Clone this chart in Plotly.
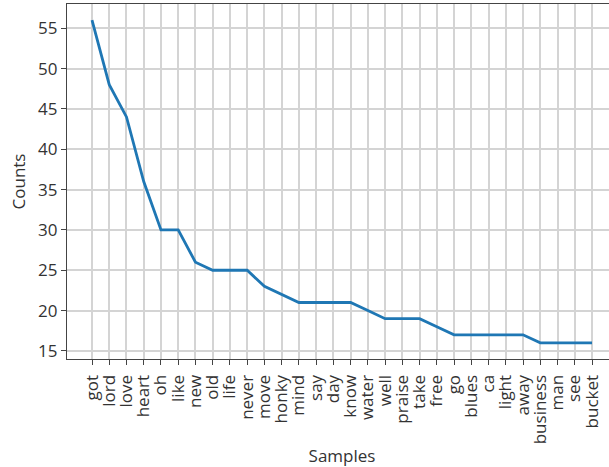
import plotly.graph_objects as go

samples = ["got", "lord", "love", "heart", "oh", "like", "new", "old", "life", "never",
           "move", "honky", "mind", "say", "day", "know", "water", "well", "praise", "take",
           "free", "go", "blues", "ca", "light", "away", "business", "man", "see", "bucket"]
counts = [56, 48, 44, 36, 30, 30, 26, 25, 25, 25,
          23, 22, 21, 21, 21, 21, 20, 19, 19, 19,
          18, 17, 17, 17, 17, 17, 16, 16, 16, 16]
y_ticks = [15, 20, 25, 30, 35, 40, 45, 50, 55]

idx = list(range(len(samples)))

fig = go.Figure()
fig.add_trace(go.Scatter(x=idx, y=counts, mode="lines",
                         line=dict(color="#1f77b4", width=2.8), showlegend=False))

font = dict(family="Open Sans", size=17, color="#333333")
fig.update_layout(
    width=620, height=467, autosize=False,
    margin=dict(l=67, r=3, t=4, b=108),
    paper_bgcolor="white", plot_bgcolor="white",
    font=font,
)
fig.update_xaxes(
    range=[-1.45, len(samples) - 1 + 1.45],
    tickmode="array", tickvals=idx, ticktext=samples, tickangle=-90,
    showgrid=True, gridcolor="#d4d4d4", gridwidth=1.5,
    showline=True, linecolor="#444444", linewidth=1.2, mirror=True,
    ticks="outside", ticklen=5, tickcolor="#444444", ticklabelstandoff=3,
    zeroline=False, automargin=False,
    title=dict(text="Samples", standoff=6, font=font),
)
fig.update_yaxes(
    range=[14, 58],
    tickmode="array", tickvals=y_ticks,
    showgrid=True, gridcolor="#d4d4d4", gridwidth=1.5,
    showline=True, linecolor="#444444", linewidth=1.2, mirror=True,
    ticks="outside", ticklen=5, tickcolor="#444444",
    zeroline=False, automargin=False,
    title=dict(text="Counts", standoff=8, font=font),
)
fig.write_html("out.html",
               config={"displayModeBar": False},
               post_script="document.body.style.margin='0';document.body.style.overflow='hidden';")
